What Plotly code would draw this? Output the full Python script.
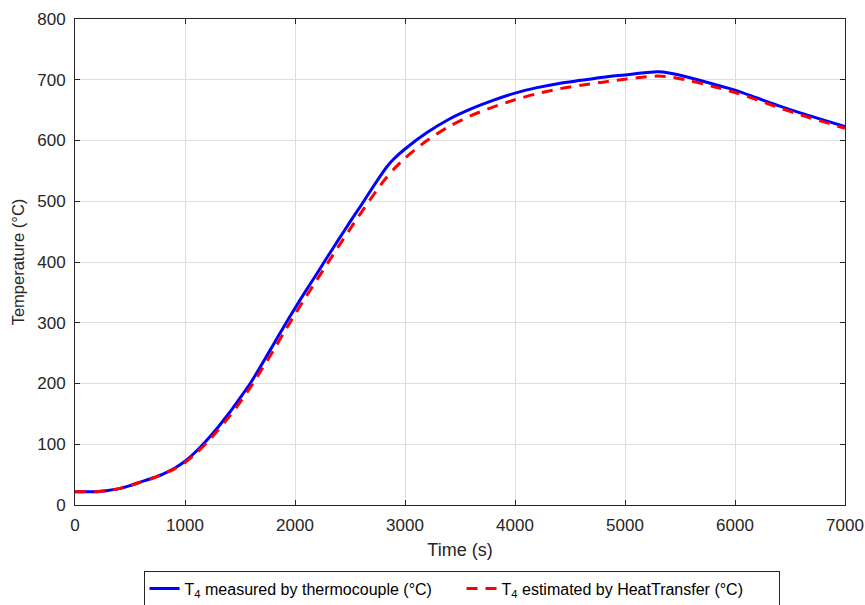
import plotly.graph_objects as go

time_measured = [0, 100, 200, 300, 400, 500, 600, 700, 800, 900, 1000, 1100, 1200, 1300, 1400, 1500,
                 1600, 1700, 1800, 1900, 2000, 2100, 2200, 2300, 2400, 2500, 2600, 2700, 2800, 2850,
                 2900, 3000, 3200, 3400, 3600, 3800, 4000, 4200, 4400, 4600, 4800, 5000, 5200, 5300,
                 5400, 5600, 5800, 6000, 6200, 6400, 6600, 6800, 7000]
temp_measured = [22, 22, 22, 24, 27, 32, 38, 44, 51, 60, 72, 88, 107, 128, 151, 176,
                 202, 232, 263, 294, 324, 353, 381, 410, 438, 466, 493, 521, 548, 560,
                 570, 586, 613, 635, 652, 666, 678, 687, 694, 699, 704, 708, 712, 713,
                 711, 703, 693, 683, 670, 657, 645, 634, 623]

time_estimated = [0, 100, 200, 300, 400, 500, 600, 700, 800, 900, 1000, 1100, 1200, 1300, 1400, 1500,
                  1600, 1700, 1800, 1900, 2000, 2100, 2200, 2300, 2400, 2500, 2600, 2700, 2800, 2900,
                  3000, 3200, 3400, 3600, 3800, 4000, 4200, 4400, 4600, 4800, 5000, 5200, 5300,
                  5400, 5600, 5800, 6000, 6200, 6400, 6600, 6800, 7000]
temp_estimated = [22, 22, 22, 24, 27, 32, 38, 44, 51, 59, 70, 85, 103, 123, 145, 169,
                  195, 224, 253, 284, 314, 343, 371, 399, 427, 454, 481, 507, 532, 553,
                  571, 600, 623, 641, 655, 667, 677, 685, 691, 696, 701, 705, 706,
                  705, 698, 689, 679, 667, 654, 642, 631, 620]

x_ticks = [0, 1000, 2000, 3000, 4000, 5000, 6000, 7000]
y_ticks = [0, 100, 200, 300, 400, 500, 600, 700, 800]

FONT = "Liberation Sans, Arial, Helvetica"
INK = "#262626"

fig = go.Figure()
fig.add_trace(go.Scatter(x=time_measured, y=temp_measured, mode="lines",
                         line=dict(color="#0000ff", width=3, shape="spline", smoothing=0.8),
                         name="T<sub>4</sub> measured by thermocouple (°C)"))
fig.add_trace(go.Scatter(x=time_estimated, y=temp_estimated, mode="lines",
                         line=dict(color="#ff0000", width=3, dash="11px,8px", shape="spline", smoothing=0.8),
                         name="T<sub>4</sub> estimated by HeatTransfer (°C)"))

axis_common = dict(showline=True, linecolor=INK, linewidth=1, mirror="allticks",
                   ticks="inside", ticklen=5, tickcolor=INK, automargin=False,
                   showgrid=True, gridcolor="#dedede", gridwidth=1, zeroline=False,
                   ticklabelstandoff=5,
                   tickfont=dict(family=FONT, size=17, color=INK))

fig.update_xaxes(range=[0, 7000], tickvals=x_ticks,
                 title=dict(text="Time (s)", font=dict(family=FONT, size=18, color=INK), standoff=8),
                 **axis_common)
fig.update_yaxes(range=[0, 800], tickvals=y_ticks,
                 title=dict(text="Temperature (°C)", font=dict(family=FONT, size=16.5, color=INK), standoff=8),
                 **axis_common)

fig.update_layout(
    width=865, height=605,
    margin=dict(l=75, r=20, t=19, b=100, autoexpand=False),
    plot_bgcolor="white", paper_bgcolor="white",
    font=dict(family=FONT, color=INK),
    legend=dict(orientation="h", x=0.502, y=-0.172, xanchor="center", yanchor="middle",
                bordercolor=INK, borderwidth=1, bgcolor="white",
                font=dict(family=FONT, size=16, color="#000000"),
                entrywidth=272, entrywidthmode="pixels", tracegroupgap=0),
    showlegend=True,
)

fig.write_html("out.html", config={"displayModeBar": False},
               post_script="document.body.style.margin='0';document.body.style.overflow='hidden';")
